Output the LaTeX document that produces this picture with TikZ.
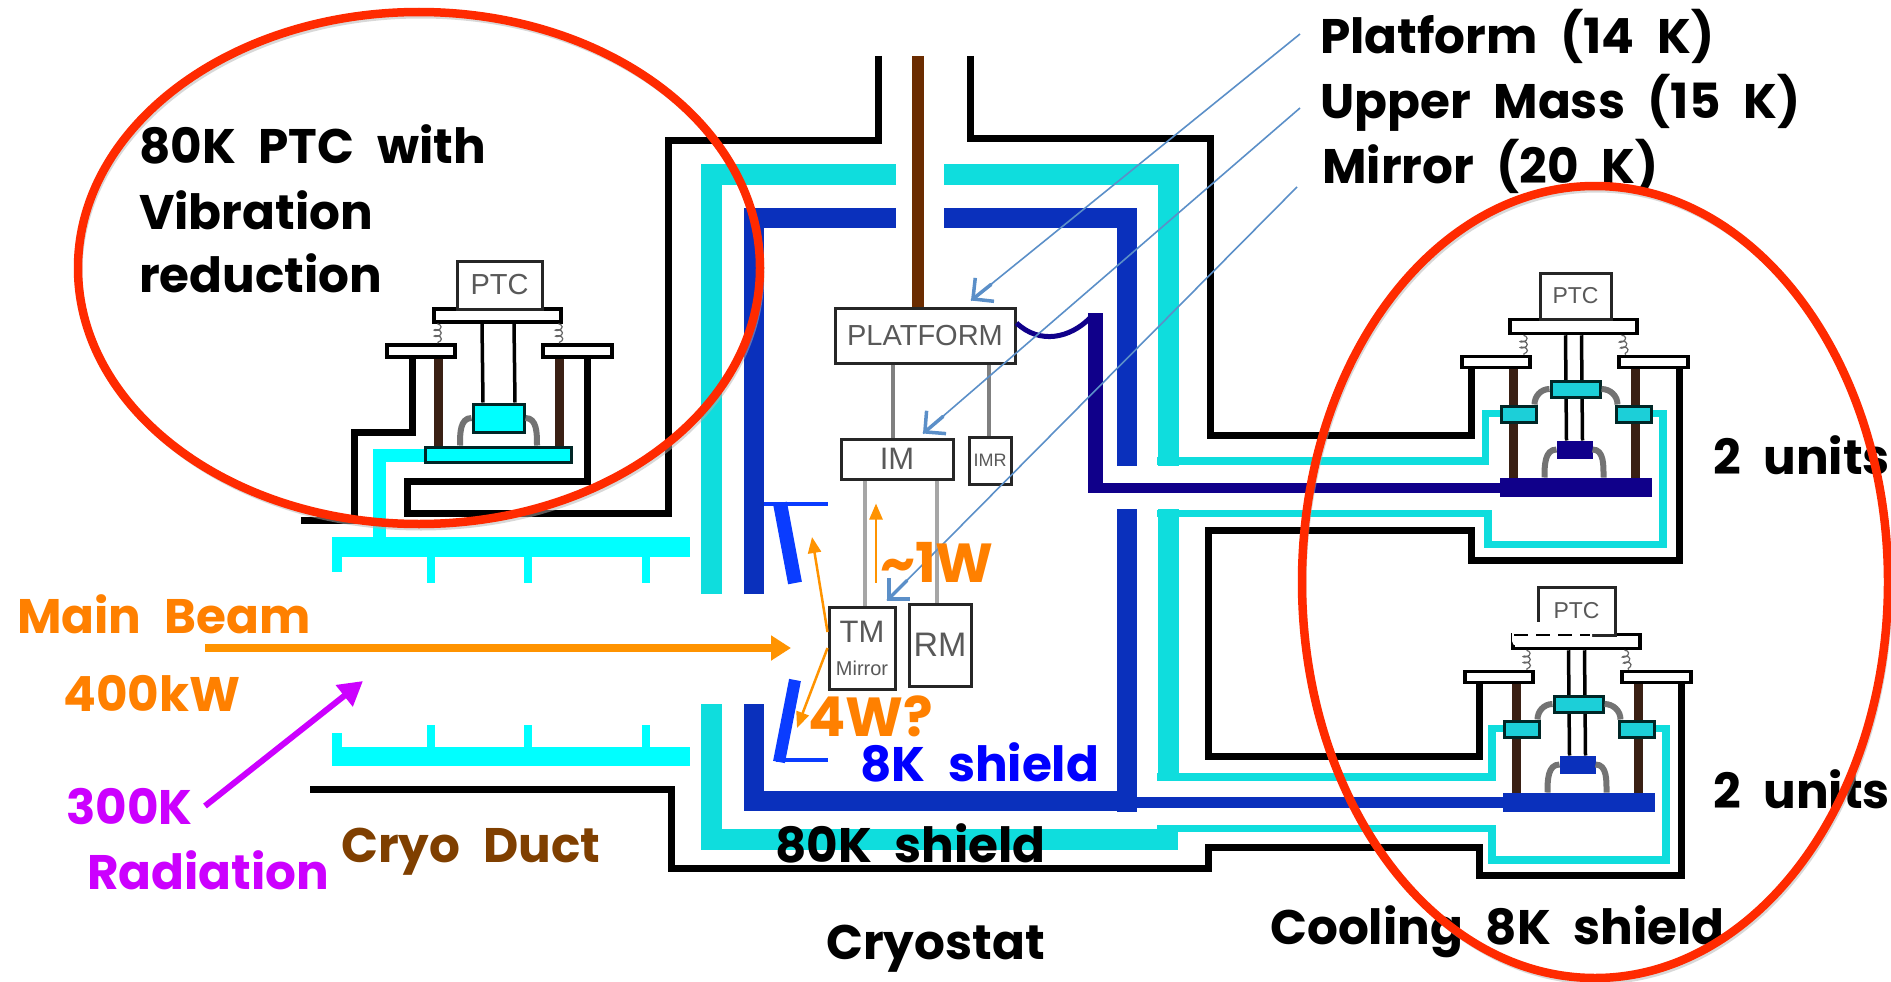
\documentclass[tikz,border=0pt]{standalone}
\usepackage{xcolor}
\usepackage{fontspec}
\setmainfont{Poppins}[WordSpace=2.2]
\newfontfamily\boxfont{Liberation Sans}
\usetikzlibrary{arrows.meta,decorations.pathmorphing}
\definecolor{ductcyan}{HTML}{00FFFF}
\definecolor{shieldcyan}{HTML}{0FDDDD}
\definecolor{blockcyan}{HTML}{1CCFD8}
\definecolor{shieldblue}{HTML}{0A30BC}
\definecolor{navyblue}{HTML}{10008A}
\definecolor{brightblue}{HTML}{0A3CFF}
\definecolor{beamorange}{HTML}{FF9300}
\definecolor{textorange}{HTML}{FF8000}
\definecolor{radviolet}{HTML}{CC00FF}
\definecolor{rodbrown}{HTML}{6B2C00}
\definecolor{postbrown}{HTML}{3A2014}
\definecolor{ductbrown}{HTML}{7F3F00}
\definecolor{ringred}{HTML}{FF2A00}
\definecolor{pointerblue}{HTML}{5B8FC8}
\begin{document}
\begin{tikzpicture}[
    x=1pt, y=-1pt,
    vessel/.style={line width=7pt, black, miter limit=10},
    shieldthick/.style={line width=21pt, shieldcyan},
    shieldthin/.style={line width=7.5pt, shieldcyan},
    shieldinner/.style={line width=20pt, shieldblue},
    hanger/.style={line width=4pt, black!50},
    hangerlow/.style={line width=4pt, black!35},
    post/.style={line width=9pt, postbrown},
    softlink/.style={line width=6pt, black!55},
    coilspring/.style={black!60, line width=1.2pt, decorate, decoration={coil, aspect=.5, segment length=6pt, amplitude=3.5pt}},
    boxed/.style={rectangle, draw=black!85, line width=3pt, fill=white, inner sep=0pt, align=center, text=black!65, font=\boxfont\fontsize{29}{29}\selectfont},
    plate/.style={rectangle, draw=black, line width=3.5pt, fill=white, inner sep=0pt},
    block/.style={rectangle, draw=black!70!teal, line width=3pt, inner sep=0pt},
    pointer/.style={pointerblue, line width=1.6pt},
    pointertip/.style={pointerblue, line width=3.5pt, line cap=round, {Straight Barb[length=15pt,width=30pt]}-},
    heat/.style={beamorange, line width=2.5pt, -{Triangle[length=16pt,width=13pt]}},
    ring/.style={ringred, line width=8.5pt},
    ringshadow/.style={black!30, line width=5pt, opacity=.5},
    lbl/.style={anchor=base west, inner sep=0pt, font=\bfseries\fontsize{48.5}{48.5}\selectfont},
    biglbl/.style={lbl, text=textorange, font=\bfseries\fontsize{55}{55}\selectfont}
]
\useasboundingbox (0,0) rectangle (1891,982);

\fill[ductcyan] (332,537) rectangle (690,557);
\fill[ductcyan] (332,747) rectangle (690,766);
\fill[ductcyan] (332,557) rectangle (342,572);
\fill[ductcyan] (332,733) rectangle (342,747);
\foreach \xa in {427,524,642} {
  \fill[ductcyan] (\xa,557) rectangle ++(8,26);
  \fill[ductcyan] (\xa,725) rectangle ++(8,22);
}
\draw[line width=13pt, ductcyan] (379.5,538) -- (379.5,455) -- (425,455);

\draw[shieldthick] (896,174.5) -- (711.5,174.5) -- (711.5,594);
\draw[shieldthick] (944,174.5) -- (1168,174.5) -- (1168,466);
\draw[shieldthick] (711.5,704) -- (711.5,839.5) -- (1178,839.5);
\draw[shieldthick] (1168,509) -- (1168,781);
\draw[shieldthin] (1157,461) -- (1485.5,461) -- (1485.5,413.5) -- (1505,413.5);
\draw[shieldthin] (1647,413.5) -- (1663,413.5) -- (1663,544.5) -- (1488,544.5) -- (1488,513.5) -- (1157,513.5);
\draw[shieldthin] (1157,777) -- (1492,777) -- (1492,728.5) -- (1508,728.5);
\draw[shieldthin] (1650,728.5) -- (1666,728.5) -- (1666,860) -- (1492,860) -- (1492,828.5) -- (1157,828.5);

\draw[shieldinner] (753.5,594) -- (753.5,217.5) -- (896,217.5);
\draw[shieldinner] (944,217.5) -- (1126.5,217.5) -- (1126.5,466);
\draw[shieldinner] (753.5,704) -- (753.5,800.5) -- (1136,800.5);
\draw[shieldinner] (1126.5,509) -- (1126.5,812);
\draw[line width=11pt, shieldblue] (1130,802.5) -- (1510,802.5);
\draw[line width=15pt, navyblue] (1095.5,313) -- (1095.5,493);
\draw[line width=10pt, navyblue] (1088,488) -- (1505,488);

\draw[vessel] (878,56) -- (878,140.5) -- (668,140.5) -- (668,513) -- (407,513) -- (407,481) -- (587,481) -- (587,357);
\draw[vessel] (301,520) -- (354.5,520) -- (354.5,432) -- (412.5,432) -- (412.5,357);
\draw[vessel] (970,56) -- (970,138.5) -- (1210,138.5) -- (1210,435.5) -- (1471,435.5) -- (1471,365);
\draw[vessel] (1679,365) -- (1679,560) -- (1471,560) -- (1471,530) -- (1208.5,530) -- (1208.5,756.5) -- (1479,756.5) -- (1479,680);
\draw[vessel] (310,789) -- (671,789) -- (671,868.5) -- (1208.5,868.5) -- (1208.5,847) -- (1479.5,847) -- (1479.5,875) -- (1681,875) -- (1681,680);

\draw[line width=12pt, rodbrown] (918,56) -- (918,310);

\draw[post] (438,357) -- (438,449);
\draw[post] (559.5,357) -- (559.5,449);
\node[plate, minimum width=127pt, minimum height=13pt] (crossplate) at (497.5,315.5) {};
\node[plate, minimum width=68pt, minimum height=12pt] (leftplate) at (421,351) {};
\node[plate, minimum width=69pt, minimum height=12pt] (rightplate) at (577.5,351) {};
\node[boxed, minimum width=85pt, minimum height=48pt] (ptcleft) at (499.5,285) {PTC};
\node[block, fill=ductcyan, minimum width=51pt, minimum height=28pt] (headleft) at (498.5,418) {};
\node[block, fill=ductcyan, minimum width=146pt, minimum height=15pt] (barleft) at (498,454.5) {};
\draw[line width=3.5pt] ([xshift=-15.5pt]crossplate.south) -- ([xshift=-15.5pt]headleft.north);
\draw[line width=3.5pt] ([xshift=16.5pt]crossplate.south) -- ([xshift=16.5pt]headleft.north);
\draw[softlink] (headleft.west) to[out=180,in=90] ([xshift=-38pt]barleft.north);
\draw[softlink] (headleft.east) to[out=0,in=90] ([xshift=39pt]barleft.north);
\draw[coilspring] ([xshift=-60pt]crossplate.south) -- ([xshift=17pt]leftplate.north);
\draw[coilspring] ([xshift=61pt]crossplate.south) -- ([xshift=-18pt]rightplate.north);

\foreach \n/\dx/\dy/\col in {a/0/0/navyblue, b/3/315/shieldblue} {
  \begin{scope}[shift={(\dx,\dy)}]
    \draw[post] (1513,367) -- (1513,481);
    \draw[post] (1635,367) -- (1635,481);
    \node[plate, minimum width=127pt, minimum height=14pt] (cross\n) at (1573.5,326.5) {};
    \node[plate, minimum width=68pt, minimum height=11pt] (lplate\n) at (1496,362) {};
    \node[plate, minimum width=69pt, minimum height=11pt] (rplate\n) at (1653.5,362) {};
    \node[block, draw=\col, fill=\col, minimum width=33pt, minimum height=15pt] (lower\n) at (1574.5,449.5) {};
    \draw[line width=3.5pt] ([xshift=-8pt]cross\n.south) -- ([xshift=-8pt]lower\n.north);
    \draw[line width=3.5pt] ([xshift=8pt]cross\n.south) -- ([xshift=8pt]lower\n.north);
    \node[block, fill=blockcyan, minimum width=49pt, minimum height=16pt] (upper\n) at (1575.5,389) {};
    \node[block, fill=blockcyan, minimum width=35pt, minimum height=16pt] (lblock\n) at (1518.5,414) {};
    \node[block, fill=blockcyan, minimum width=35pt, minimum height=16pt] (rblock\n) at (1633.5,414) {};
    \node[block, draw=\col, fill=\col, minimum width=149pt, minimum height=16pt] (bar\n) at (1575.5,487) {};
    \draw[softlink] (upper\n.west) to[out=180,in=90] ([xshift=16pt]lblock\n.north);
    \draw[softlink] (upper\n.east) to[out=0,in=90] ([xshift=-16pt]rblock\n.north);
    \draw[softlink] (lower\n.west) to[out=180,in=90] ([xshift=-31pt]bar\n.north);
    \draw[softlink] (lower\n.east) to[out=0,in=90] ([xshift=28pt]bar\n.north);
    \draw[coilspring] ([xshift=-50pt]cross\n.south) -- ([xshift=28pt]lplate\n.north);
    \draw[coilspring] ([xshift=48pt]cross\n.south) -- ([xshift=-28pt]rplate\n.north);
  \end{scope}
}
\node[boxed, font=\boxfont\fontsize{23}{23}\selectfont, minimum width=71pt, minimum height=46pt] (ptcupper) at (1575.5,296) {PTC};
\node[boxed, font=\boxfont\fontsize{23}{23}\selectfont, minimum width=77pt, minimum height=48pt] (ptclower) at (1576.5,611) {PTC};
\fill[white, rounded corners=5pt] (1512,622) rectangle (1592,646);
\draw[line width=2.5pt, dash pattern=on 14pt off 8pt] (1514,635) -- (1590,635);

\node[boxed, minimum width=180pt, minimum height=55pt] (platform) at (925,335.5) {PLATFORM};
\node[boxed, font=\boxfont\fontsize{31}{31}\selectfont, minimum width=112pt, minimum height=40pt] (im) at (897,459) {IM};
\node[boxed, font=\boxfont\fontsize{18}{18}\selectfont, minimum width=42pt, minimum height=47pt] (imr) at (990,460.5) {IMR};
\node[boxed, font=\boxfont\fontsize{31}{31}\selectfont, minimum width=66pt, minimum height=82pt] (tm) at (862,648) {TM\\[2pt]{\fontsize{20}{20}\selectfont Mirror}};
\node[boxed, font=\boxfont\fontsize{34}{34}\selectfont, minimum width=62pt, minimum height=82pt] (rm) at (940,645) {RM};

\draw[hanger] ([xshift=-32pt]platform.south) -- ([xshift=-4pt]im.north);
\draw[hanger] ([xshift=64pt]platform.south) -- ([xshift=-1pt]imr.north);
\draw[hangerlow] ([xshift=-32pt]im.south) -- ([xshift=3pt]tm.north);
\draw[hangerlow] ([xshift=40pt]im.south) -- ([xshift=-3pt]rm.north);
\draw[navyblue, line width=5pt] (platform.east |- 0,323) .. controls (1040,345) and (1070,338) .. (1090,318);

\draw[brightblue, line width=3.5pt] (764,504) -- (828,504);
\draw[brightblue, line width=14pt] (780,503) -- (795,583);
\draw[brightblue, line width=12pt] (795,680) -- (779,762);
\draw[brightblue, line width=3.5pt] (776,760) -- (828,760);

\coordinate (beamstart) at (205,648);
\coordinate (beamtip) at (791,648);
\draw[beamorange, line width=8pt, -{Triangle[length=20pt,width=24pt]}] (beamstart) -- (beamtip);
\coordinate (radstart) at (205,806);
\coordinate (radtip) at (363,681);
\draw[radviolet, line width=6pt, -{Triangle[length=24pt,width=26pt]}] (radstart) -- (radtip);
\coordinate (heatup) at (812,537);
\coordinate (heatdown) at (797,728);
\draw[heat] ([yshift=16pt]tm.west) -- (heatup);
\draw[heat] (tm.west) -- (heatdown);
\draw[heat] ([xshift=14pt,yshift=23pt]tm.north) -- ([xshift=14pt,yshift=102pt]tm.north);

\node[lbl] (platformlabel) at (1320,54) {Platform (14 K)};
\node[lbl] (upperlabel) at (1320,118) {Upper Mass (15 K)};
\node[lbl] (mirrorlabel) at (1322,183) {Mirror (20 K)};
\coordinate (platformfrom) at (1300,34);
\coordinate (upperfrom) at (1300,108);
\coordinate (mirrorfrom) at (1297,187);
\draw[pointer] (platformfrom) -- ([xshift=46pt,yshift=6pt]platform.north);
\draw[pointer] (upperfrom) -- ([xshift=26pt,yshift=4pt]im.north);
\draw[pointer] (mirrorfrom) -- ([xshift=25pt,yshift=5pt]tm.north);
\draw[pointertip] ([xshift=46pt,yshift=6pt]platform.north) -- ++(20,-16);
\draw[pointertip] ([xshift=26pt,yshift=4pt]im.north) -- ++(20,-17);
\draw[pointertip] ([xshift=25pt,yshift=5pt]tm.north) -- ++(20,-20);

\node[lbl] (ptctitlea) at (139,163) {80K PTC with};
\node[lbl] (ptctitleb) at (139,229) {Vibration};
\node[lbl] (ptctitlec) at (139,292) {reduction};
\node[lbl, text=textorange] (beamlabel) at (17,633) {Main Beam};
\node[lbl, text=textorange] (powerlabel) at (63,711) {400kW};
\node[lbl, text=radviolet] (radlabela) at (66,824) {300K};
\node[lbl, text=radviolet] (radlabelb) at (87,889) {Radiation};
\node[lbl, text=ductbrown] (ductlabel) at (341,862) {Cryo Duct};
\node[lbl] (outerlabel) at (775,862) {80K shield};
\node[lbl, text=blue] (innerlabel) at (860,781) {8K shield};
\node[lbl] (cryostatlabel) at (826,959) {Cryostat};
\node[lbl] (coolinglabel) at (1270,944) {Cooling 8K shield};
\node[lbl] (unitslabela) at (1713,474) {2 units};
\node[lbl] (unitslabelb) at (1713,808) {2 units};
\node[biglbl] (uplabel) at (880,582) {\textasciitilde1W};
\node[biglbl] (sidelabel) at (808,736) {4W?};

\draw[ringshadow] (421,272) ellipse [x radius=341, y radius=256];
\draw[ring] (419,268) ellipse [x radius=341, y radius=256];
\draw[ringshadow] (1597,586) ellipse [x radius=293, y radius=396];
\draw[ring] (1595,582) ellipse [x radius=293, y radius=396];
\end{tikzpicture}
\end{document}
